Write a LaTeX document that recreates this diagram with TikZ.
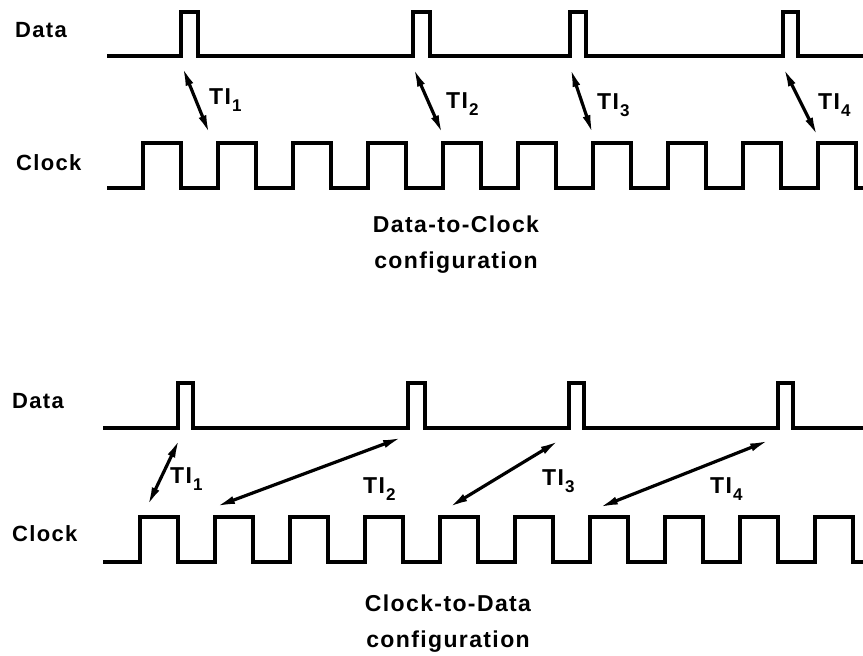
\documentclass[tikz,border=0pt]{standalone}
\usepackage{fontspec}
\newfontfamily\sigfont{Liberation Sans}[LetterSpace=6]
\usetikzlibrary{arrows.meta}
\newcommand\tisub[1]{TI\kern1pt\raisebox{-7pt}{\fontsize{17}{17}\selectfont #1}}

\begin{document}
\begin{tikzpicture}[x=1pt,y=-1pt,
  wave/.style={line width=3.4pt,line join=miter},
  lbl/.style={anchor=west,inner sep=0pt,font={\sigfont\bfseries\fontsize{22}{24}\selectfont}},
  ti/.style={anchor=west,inner sep=0pt,font={\sigfont\bfseries\fontsize{23}{24}\selectfont}},
  cfg/.style={align=center,font={\sigfont\bfseries\fontsize{23}{36}\selectfont}},
  arr/.style={{Latex[length=20pt,width=8pt]}-{Latex[length=20pt,width=8pt]},line width=3.2pt}]
\useasboundingbox (0,0) rectangle (863,656);
% Data-to-Clock
\node[lbl] (dataA) at (15,30) {Data};
\node[lbl] (clkA) at (16,163) {Clock};
\draw[wave] (107,56) \foreach \a/\b in {181/198,413/430,570/586,783/798}{
  -- (\a,56) |- (\b,12) -- (\b,56)} -- (863,56);
\draw[wave] (107,188) \foreach \k in {0,...,9}{
  -- ({143+75*\k},188) |- ({181+75*\k},143) -- ({181+75*\k},188)} -- (863,188);
\coordinate (dA1) at (182,66);  \coordinate (cA1) at (210,135);
\coordinate (dA2) at (413,67);  \coordinate (cA2) at (443,135);
\coordinate (dA3) at (570,67);  \coordinate (cA3) at (593,135);
\coordinate (dA4) at (783,67);  \coordinate (cA4) at (818,137);
\foreach \i in {1,...,4}
  \draw[arr] (dA\i) -- (cA\i);
\node[ti] (tiA1) at (209,100) {\tisub{1}};
\node[ti] (tiA2) at (446,104) {\tisub{2}};
\node[ti] (tiA3) at (597,105) {\tisub{3}};
\node[ti] (tiA4) at (818,105) {\tisub{4}};
\node[cfg] (capA) at (456,245) {Data-to-Clock\\configuration};
% Clock-to-Data
\node[lbl] (dataB) at (12,401) {Data};
\node[lbl] (clkB) at (12,534) {Clock};
\draw[wave] (103,428) \foreach \a/\b in {178/193,408/425,569/584,778/793}{
  -- (\a,428) |- (\b,383) -- (\b,428)} -- (863,428);
\draw[wave] (103,562) \foreach \k in {0,...,9}{
  -- ({140+75*\k},562) |- ({178+75*\k},517) -- ({178+75*\k},562)} -- (863,562);
\coordinate (dB1) at (180,438); \coordinate (cB1) at (147,507);
\coordinate (dB2) at (403,437); \coordinate (cB2) at (215,507);
\coordinate (dB3) at (560,440); \coordinate (cB3) at (448,508);
\coordinate (dB4) at (770,440); \coordinate (cB4) at (598,508);
\foreach \i in {1,...,4}
  \draw[arr] (dB\i) -- (cB\i);
\node[ti] (tiB1) at (170,479) {\tisub{1}};
\node[ti] (tiB2) at (363,489) {\tisub{2}};
\node[ti] (tiB3) at (542,481) {\tisub{3}};
\node[ti] (tiB4) at (710,489) {\tisub{4}};
\node[cfg] (capB) at (448,624) {Clock-to-Data\\configuration};
\end{tikzpicture}
\end{document}
